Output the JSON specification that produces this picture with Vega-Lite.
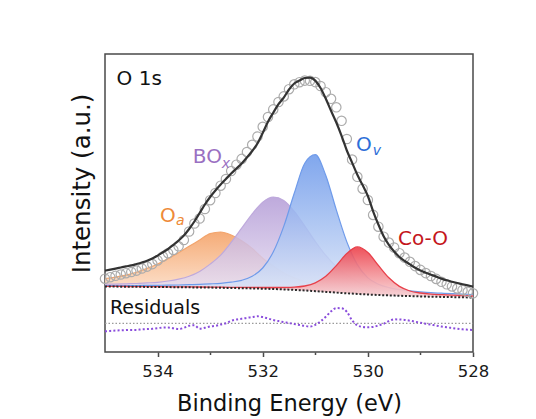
{
  "$schema": "https://vega.github.io/schema/vega-lite/v6.json",
  "width": 368,
  "height": 298,
  "autosize": {"type": "none"},
  "padding": {"left": 105, "top": 54, "right": 63, "bottom": 67},
  "background": "white",
  "config": {
    "view": {"stroke": "#4a4a4a", "strokeWidth": 1.5},
    "font": "DejaVu Sans",
    "axisY": {
      "ticks": false, "labels": false, "domain": false, "grid": false,
      "titleFont": "DejaVu Sans", "titleFontSize": 24.5, "titleFontWeight": "normal", "titleColor": "#111111",
      "titleX": -16, "titleY": 129, "titleAlign": "center", "titleBaseline": "alphabetic", "titleAngle": -90
    }
  },
  "datasets": {
    "components": [
      {"E": 535.0, "bg": 65.5, "oa": 73.5, "box": 67.8, "ov": 66.5, "coo": 65.7},
      {"E": 534.8, "bg": 65.4, "oa": 74.9, "box": 67.9, "ov": 66.5, "coo": 65.6},
      {"E": 534.6, "bg": 65.3, "oa": 76.8, "box": 68.2, "ov": 66.5, "coo": 65.5},
      {"E": 534.4, "bg": 65.2, "oa": 79.7, "box": 68.5, "ov": 66.5, "coo": 65.4},
      {"E": 534.2, "bg": 65.1, "oa": 83.6, "box": 69.1, "ov": 66.6, "coo": 65.4},
      {"E": 534.0, "bg": 65.0, "oa": 88.0, "box": 69.7, "ov": 66.7, "coo": 65.3},
      {"E": 533.8, "bg": 64.9, "oa": 93.4, "box": 71.0, "ov": 66.8, "coo": 65.2},
      {"E": 533.6, "bg": 64.8, "oa": 99.3, "box": 72.9, "ov": 67.0, "coo": 65.2},
      {"E": 533.4, "bg": 64.65, "oa": 105.7, "box": 75.8, "ov": 67.3, "coo": 65.1},
      {"E": 533.2, "bg": 64.5, "oa": 112.0, "box": 80.6, "ov": 67.6, "coo": 65.0},
      {"E": 533.0, "bg": 64.4, "oa": 118.4, "box": 87.9, "ov": 68.1, "coo": 64.9},
      {"E": 532.8, "bg": 64.2, "oa": 120.0, "box": 96.9, "ov": 68.7, "coo": 64.8},
      {"E": 532.6, "bg": 64.0, "oa": 117.0, "box": 109.6, "ov": 69.8, "coo": 64.7},
      {"E": 532.4, "bg": 63.8, "oa": 111.3, "box": 123.8, "ov": 71.7, "coo": 64.6},
      {"E": 532.2, "bg": 63.6, "oa": 103.6, "box": 138.1, "ov": 75.7, "coo": 64.6},
      {"E": 532.0, "bg": 63.3, "oa": 93.8, "box": 149.8, "ov": 84.0, "coo": 64.5},
      {"E": 531.8, "bg": 63.0, "oa": 86.0, "box": 154.9, "ov": 99.9, "coo": 64.5},
      {"E": 531.6, "bg": 62.6, "oa": 79.1, "box": 151.5, "ov": 125.6, "coo": 64.6},
      {"E": 531.4, "bg": 62.1, "oa": 74.1, "box": 140.6, "ov": 158.7, "coo": 64.9},
      {"E": 531.2, "bg": 61.5, "oa": 70.5, "box": 125.9, "ov": 188.8, "coo": 66.0},
      {"E": 531.0, "bg": 60.8, "oa": 67.8, "box": 110.5, "ov": 197.3, "coo": 69.1},
      {"E": 530.8, "bg": 60.1, "oa": 65.7, "box": 96.6, "ov": 176.5, "coo": 75.7},
      {"E": 530.6, "bg": 59.4, "oa": 64.0, "box": 85.4, "ov": 142.1, "coo": 86.4},
      {"E": 530.4, "bg": 58.7, "oa": 62.6, "box": 76.9, "ov": 110.1, "coo": 98.5},
      {"E": 530.2, "bg": 58.1, "oa": 61.4, "box": 70.5, "ov": 87.4, "coo": 105.05},
      {"E": 530.0, "bg": 57.5, "oa": 60.4, "box": 66.5, "ov": 74.1, "coo": 99.5},
      {"E": 529.8, "bg": 57.0, "oa": 59.6, "box": 63.5, "ov": 67.8, "coo": 86.6},
      {"E": 529.6, "bg": 56.6, "oa": 58.9, "box": 61.8, "ov": 64.4, "coo": 74.2},
      {"E": 529.4, "bg": 56.2, "oa": 58.3, "box": 60.4, "ov": 62.4, "coo": 65.6},
      {"E": 529.2, "bg": 55.9, "oa": 57.8, "box": 59.4, "ov": 61.1, "coo": 61.0},
      {"E": 529.0, "bg": 55.6, "oa": 57.3, "box": 58.6, "ov": 60.1, "coo": 59.0},
      {"E": 528.8, "bg": 55.3, "oa": 56.9, "box": 57.9, "ov": 59.3, "coo": 57.9},
      {"E": 528.6, "bg": 55.1, "oa": 56.6, "box": 57.4, "ov": 58.8, "coo": 57.3},
      {"E": 528.4, "bg": 54.9, "oa": 56.3, "box": 57.0, "ov": 58.3, "coo": 56.8},
      {"E": 528.2, "bg": 54.7, "oa": 56.0, "box": 56.5, "ov": 57.9, "coo": 56.4},
      {"E": 528.0, "bg": 54.5, "oa": 55.7, "box": 56.2, "ov": 57.5, "coo": 56.0}
    ],
    "measured": [
      {"E": 535.0, "fit": 81.3, "obs": 73.3, "resid": 20.7},
      {"E": 534.9, "fit": 82.4, "obs": 74.8, "resid": 21.1},
      {"E": 534.8, "fit": 83.4, "obs": 76.2, "resid": 21.5},
      {"E": 534.7, "fit": 84.5, "obs": 77.5, "resid": 21.7},
      {"E": 534.6, "fit": 85.6, "obs": 78.8, "resid": 21.9},
      {"E": 534.5, "fit": 86.6, "obs": 80.0, "resid": 22.1},
      {"E": 534.4, "fit": 88.0, "obs": 81.4, "resid": 22.1},
      {"E": 534.3, "fit": 89.5, "obs": 83.5, "resid": 22.7},
      {"E": 534.2, "fit": 91.2, "obs": 85.4, "resid": 22.9},
      {"E": 534.1, "fit": 93.4, "obs": 87.9, "resid": 23.2},
      {"E": 534.0, "fit": 96.4, "obs": 91.6, "resid": 23.9},
      {"E": 533.9, "fit": 99.7, "obs": 95.4, "resid": 24.4},
      {"E": 533.8, "fit": 103.0, "obs": 98.8, "resid": 24.5},
      {"E": 533.7, "fit": 107.1, "obs": 102.1, "resid": 23.7},
      {"E": 533.6, "fit": 111.5, "obs": 105.7, "resid": 22.9},
      {"E": 533.5, "fit": 116.5, "obs": 112.0, "resid": 24.2},
      {"E": 533.4, "fit": 123.0, "obs": 120.5, "resid": 26.2},
      {"E": 533.3, "fit": 130.5, "obs": 128.5, "resid": 26.7},
      {"E": 533.2, "fit": 139.0, "obs": 133.5, "resid": 23.2},
      {"E": 533.1, "fit": 147.5, "obs": 143.0, "resid": 24.2},
      {"E": 533.0, "fit": 155.0, "obs": 151.8, "resid": 25.5},
      {"E": 532.9, "fit": 161.5, "obs": 159.0, "resid": 26.2},
      {"E": 532.8, "fit": 167.5, "obs": 166.3, "resid": 27.5},
      {"E": 532.7, "fit": 173.0, "obs": 173.0, "resid": 28.7},
      {"E": 532.6, "fit": 178.5, "obs": 181.0, "resid": 31.2},
      {"E": 532.5, "fit": 183.5, "obs": 187.3, "resid": 32.5},
      {"E": 532.4, "fit": 188.5, "obs": 193.1, "resid": 33.3},
      {"E": 532.3, "fit": 194.5, "obs": 200.0, "resid": 34.2},
      {"E": 532.2, "fit": 201.0, "obs": 207.2, "resid": 34.9},
      {"E": 532.1, "fit": 208.5, "obs": 215.5, "resid": 35.7},
      {"E": 532.0, "fit": 219.0, "obs": 225.2, "resid": 34.9},
      {"E": 531.9, "fit": 230.2, "obs": 235.0, "resid": 33.5},
      {"E": 531.8, "fit": 239.3, "obs": 242.6, "resid": 32.0},
      {"E": 531.7, "fit": 247.8, "obs": 250.0, "resid": 30.9},
      {"E": 531.6, "fit": 254.4, "obs": 255.6, "resid": 29.9},
      {"E": 531.5, "fit": 262.5, "obs": 262.8, "resid": 29.0},
      {"E": 531.4, "fit": 268.5, "obs": 267.7, "resid": 27.9},
      {"E": 531.3, "fit": 271.5, "obs": 269.8, "resid": 27.0},
      {"E": 531.2, "fit": 274.0, "obs": 271.4, "resid": 26.1},
      {"E": 531.1, "fit": 274.4, "obs": 271.2, "resid": 25.5},
      {"E": 531.0, "fit": 271.4, "obs": 269.9, "resid": 27.2},
      {"E": 530.9, "fit": 264.0, "obs": 266.0, "resid": 30.7},
      {"E": 530.8, "fit": 253.3, "obs": 259.8, "resid": 35.2},
      {"E": 530.7, "fit": 241.2, "obs": 253.2, "resid": 40.7},
      {"E": 530.6, "fit": 229.5, "obs": 244.7, "resid": 43.9},
      {"E": 530.5, "fit": 216.2, "obs": 231.2, "resid": 43.7},
      {"E": 530.4, "fit": 201.5, "obs": 213.0, "resid": 40.2},
      {"E": 530.3, "fit": 189.4, "obs": 192.4, "resid": 31.7},
      {"E": 530.2, "fit": 177.2, "obs": 175.2, "resid": 26.7},
      {"E": 530.1, "fit": 166.9, "obs": 163.3, "resid": 25.1},
      {"E": 530.0, "fit": 156.0, "obs": 152.0, "resid": 24.7},
      {"E": 529.9, "fit": 140.7, "obs": 137.1, "resid": 25.1},
      {"E": 529.8, "fit": 127.5, "obs": 125.3, "resid": 26.5},
      {"E": 529.7, "fit": 115.8, "obs": 115.3, "resid": 28.2},
      {"E": 529.6, "fit": 107.2, "obs": 109.4, "resid": 30.9},
      {"E": 529.5, "fit": 100.5, "obs": 104.5, "resid": 32.7},
      {"E": 529.4, "fit": 95.0, "obs": 98.8, "resid": 32.5},
      {"E": 529.3, "fit": 91.0, "obs": 94.4, "resid": 32.1},
      {"E": 529.2, "fit": 87.6, "obs": 90.2, "resid": 31.3},
      {"E": 529.1, "fit": 84.3, "obs": 85.9, "resid": 30.3},
      {"E": 529.0, "fit": 81.5, "obs": 82.1, "resid": 29.3},
      {"E": 528.9, "fit": 79.3, "obs": 78.9, "resid": 28.3},
      {"E": 528.8, "fit": 77.3, "obs": 76.0, "resid": 27.4},
      {"E": 528.7, "fit": 75.4, "obs": 73.1, "resid": 26.4},
      {"E": 528.6, "fit": 73.4, "obs": 70.2, "resid": 25.5},
      {"E": 528.5, "fit": 71.7, "obs": 67.7, "resid": 24.7},
      {"E": 528.4, "fit": 70.3, "obs": 65.6, "resid": 24.0},
      {"E": 528.3, "fit": 69.0, "obs": 63.6, "resid": 23.3},
      {"E": 528.2, "fit": 67.8, "obs": 61.8, "resid": 22.7},
      {"E": 528.1, "fit": 66.6, "obs": 60.2, "resid": 22.3},
      {"E": 528.0, "fit": 65.4, "obs": 58.7, "resid": 22.0}
    ],
    "zeroLine": [
      {"E": 535.0, "zero": 28.7},
      {"E": 528.0, "zero": 28.7}
    ],
    "labels": [
      {"series": "O 1s", "text": "O 1s", "E": 534.78, "I": 267},
      {"series": "BOx", "text": "BO", "E": 533.33, "I": 189},
      {"series": "Oa", "text": "O", "E": 533.954, "I": 130.5},
      {"series": "Ov", "text": "O", "E": 530.225, "I": 201},
      {"series": "Co-O", "text": "Co-O", "E": 529.427, "I": 107}
    ],
    "subscripts": [
      {"series": "BOx", "text": "x", "E": 532.78, "I": 184},
      {"series": "Oa", "text": "a", "E": 533.65, "I": 127},
      {"series": "Ov", "text": "v", "E": 529.908, "I": 197}
    ]
  },
  "encoding": {
    "x": {
      "field": "E",
      "type": "quantitative",
      "scale": {"domain": [528, 535], "reverse": true, "nice": false, "zero": false},
      "axis": {
        "values": [534, 533, 532, 531, 530, 529, 528],
        "format": "d",
        "labelExpr": "datum.value % 2 == 0 ? datum.label : ''",
        "tickSize": {"condition": {"test": "datum.value % 2 != 0", "value": 2.5}, "value": 4.5},
        "tickWidth": 1.5,
        "tickColor": "#4a4a4a",
        "domain": false,
        "grid": false,
        "labelFlush": false,
        "labelOverlap": false,
        "labelFont": "DejaVu Sans",
        "labelFontSize": 16.5,
        "labelColor": "#1a1a1a",
        "labelPadding": 7,
        "title": "Binding Energy (eV)",
        "titleFont": "DejaVu Sans",
        "titleFontSize": 22.5,
        "titleFontWeight": "normal",
        "titleColor": "#111111",
        "titlePadding": 12
      }
    }
  },
  "layer": [
    {
      "data": {"name": "components"},
      "mark": {
        "type": "area", "interpolate": "monotone", "fillOpacity": 0.88,
        "fill": {"gradient": "linear", "x1": 0, "y1": 0, "x2": 0, "y2": 1,
                 "stops": [{"offset": 0, "color": "#f4a064"}, {"offset": 1, "color": "#fde4d1"}]},
        "line": {"color": "#f2a46c", "strokeWidth": 1.2}
      },
      "encoding": {
        "y": {"field": "oa", "type": "quantitative", "scale": {"domain": [0, 298]}, "title": "Intensity (a.u.)"},
        "y2": {"field": "bg"}
      }
    },
    {
      "data": {"name": "components"},
      "mark": {
        "type": "area", "interpolate": "monotone", "fillOpacity": 0.85,
        "fill": {"gradient": "linear", "x1": 0, "y1": 0, "x2": 0, "y2": 1,
                 "stops": [{"offset": 0, "color": "#b39bd6"}, {"offset": 1, "color": "#ece5f4"}]},
        "line": {"color": "#bea9dc", "strokeWidth": 1.2}
      },
      "encoding": {
        "y": {"field": "box", "type": "quantitative", "scale": {"domain": [0, 298]}, "title": "Intensity (a.u.)"},
        "y2": {"field": "bg"}
      }
    },
    {
      "data": {"name": "components"},
      "mark": {
        "type": "area", "interpolate": "monotone", "fillOpacity": 0.85,
        "fill": {"gradient": "linear", "x1": 0, "y1": 0, "x2": 0, "y2": 1,
                 "stops": [{"offset": 0, "color": "#6a97ea"}, {"offset": 1, "color": "#dfe8f8"}]},
        "line": {"color": "#6f9bea", "strokeWidth": 1.2}
      },
      "encoding": {
        "y": {"field": "ov", "type": "quantitative", "scale": {"domain": [0, 298]}, "title": "Intensity (a.u.)"},
        "y2": {"field": "bg"}
      }
    },
    {
      "data": {"name": "components"},
      "mark": {
        "type": "area", "interpolate": "monotone", "fillOpacity": 0.9,
        "fill": {"gradient": "linear", "x1": 0, "y1": 0, "x2": 0, "y2": 1,
                 "stops": [{"offset": 0, "color": "#ec3f49"}, {"offset": 1, "color": "#f9d5d7"}]},
        "line": {"color": "#e8404a", "strokeWidth": 1.3}
      },
      "encoding": {
        "y": {"field": "coo", "type": "quantitative", "scale": {"domain": [0, 298]}, "title": "Intensity (a.u.)"},
        "y2": {"field": "bg"}
      }
    },
    {
      "data": {"name": "components"},
      "mark": {"type": "line", "interpolate": "monotone", "color": "#2a2a2a", "strokeWidth": 2, "strokeDash": [2, 1.8]},
      "encoding": {
        "y": {"field": "bg", "type": "quantitative", "scale": {"domain": [0, 298]}, "title": "Intensity (a.u.)"}
      }
    },
    {
      "data": {"name": "measured"},
      "mark": {"type": "point", "shape": "circle", "filled": false, "size": 88, "color": "#acacac", "strokeWidth": 1.2, "opacity": 1},
      "encoding": {
        "y": {"field": "obs", "type": "quantitative", "scale": {"domain": [0, 298]}, "title": "Intensity (a.u.)"}
      }
    },
    {
      "data": {"name": "measured"},
      "mark": {"type": "line", "interpolate": "monotone", "color": "#333333", "strokeWidth": 2.2},
      "encoding": {
        "y": {"field": "fit", "type": "quantitative", "scale": {"domain": [0, 298]}, "title": "Intensity (a.u.)"}
      }
    },
    {
      "data": {"name": "zeroLine"},
      "mark": {"type": "line", "color": "#9a9a9a", "strokeWidth": 1.2, "strokeDash": [1.5, 2]},
      "encoding": {
        "y": {"field": "zero", "type": "quantitative", "scale": {"domain": [0, 298]}, "title": "Intensity (a.u.)"}
      }
    },
    {
      "data": {"name": "measured"},
      "mark": {"type": "line", "interpolate": "monotone", "color": "#8a4ddc", "strokeWidth": 2, "strokeDash": [2, 2.2]},
      "encoding": {
        "y": {"field": "resid", "type": "quantitative", "scale": {"domain": [0, 298]}, "title": "Intensity (a.u.)"}
      }
    },
    {
      "data": {"name": "labels"},
      "mark": {"type": "text", "align": "left", "baseline": "alphabetic", "font": "DejaVu Sans", "fontSize": 20},
      "encoding": {
        "y": {"field": "I", "type": "quantitative", "scale": {"domain": [0, 298]}, "title": "Intensity (a.u.)"},
        "text": {"field": "text"},
        "color": {"field": "series", "type": "nominal", "legend": null,
                  "scale": {"domain": ["O 1s", "BOx", "Oa", "Ov", "Co-O"],
                            "range": ["#111111", "#9a70c2", "#ee8a38", "#2e6fd8", "#c4161c"]}}
      }
    },
    {
      "data": {"name": "subscripts"},
      "mark": {"type": "text", "align": "left", "baseline": "alphabetic", "font": "DejaVu Sans", "fontSize": 14, "fontStyle": "italic"},
      "encoding": {
        "y": {"field": "I", "type": "quantitative", "scale": {"domain": [0, 298]}, "title": "Intensity (a.u.)"},
        "text": {"field": "text"},
        "color": {"field": "series", "type": "nominal", "legend": null,
                  "scale": {"domain": ["O 1s", "BOx", "Oa", "Ov", "Co-O"],
                            "range": ["#111111", "#9a70c2", "#ee8a38", "#2e6fd8", "#c4161c"]}}
      }
    },
    {
      "data": {"values": [{"text": "Residuals", "E": 534.905, "I": 38}]},
      "mark": {"type": "text", "align": "left", "baseline": "alphabetic", "font": "DejaVu Sans", "fontSize": 19, "color": "#111111"},
      "encoding": {
        "y": {"field": "I", "type": "quantitative", "scale": {"domain": [0, 298]}, "title": "Intensity (a.u.)"},
        "text": {"field": "text"}
      }
    }
  ]
}
